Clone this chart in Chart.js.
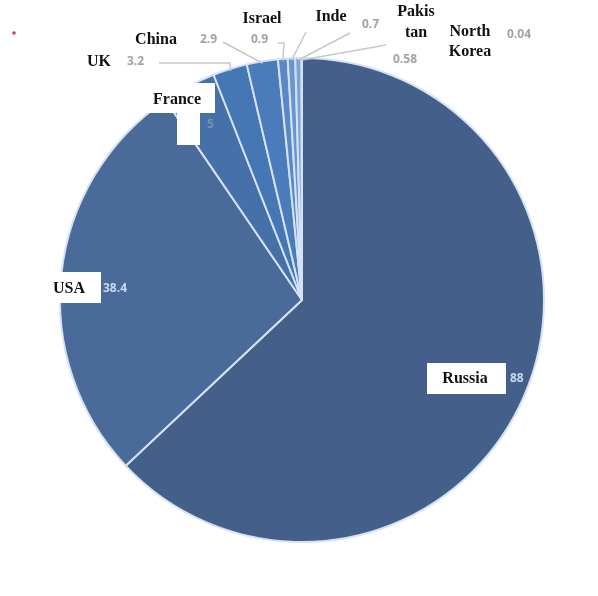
<!DOCTYPE html>
<html>
<head>
<meta charset="utf-8">
<script src="https://cdn.jsdelivr.net/npm/chart.js@4/dist/chart.umd.min.js"></script>
<style>
  html,body{margin:0;padding:0;background:#fff;}
  #wrap{width:598px;height:596px;position:relative;}
</style>
</head>
<body>
<div id="wrap"><canvas id="chart" width="598" height="596"></canvas></div>
<script>
// data
const countries = ['Russia','USA','France','UK','China','Israel','Inde','Pakistan','North Korea'];
const values = [88, 38.4, 5, 3.2, 2.9, 0.9, 0.7, 0.58, 0.04];
const valueLabels = ['88','38.4','5','3.2','2.9','0.9','0.7','0.58','0.04'];

const COLORS = ['#44608a','#4a6a9a','#4570a8','#4677b5','#4a7cbb','#5a88c6','#6a95cf','#7aa2d6','#8aaedc'];

// where each label sits (name lines, value left edge, optional white box, leader start)
const LABELS = [
  {name:['Russia'], nx:465, ny:379, vx:510, vy:379, vcol:'#c9d8ee', box:[[427,363,79,31]]},
  {name:['USA'], nx:69, ny:289, vx:103, vy:289, vcol:'#c9d8ee', box:[[40,272,61,31]]},
  {name:['France'], nx:177, ny:100, vx:207, vy:125, vcol:'#7f90aa', box:[[147,83,68,30],[177,112,23,33]]},
  {name:['UK'], nx:99, ny:62, vx:127, vy:62, lead:[[159,63],[230,63]]},
  {name:['China'], nx:156, ny:40, vx:200, vy:40, lead:[[223,42]]},
  {name:['Israel'], nx:262, ny:19, vx:251, vy:40, lead:[[278,43],[284,43]]},
  {name:['Inde'], nx:331, ny:17, vx:362, vy:25, lead:[[306,32]]},
  {name:['Pakis','tan'], nx:416, ny:12, lh:21, vx:393, vy:60, lead:[[350,33]]},
  {name:['North','Korea'], nx:470, ny:32, lh:20, vx:507, vy:35, lead:[[386,45]]}
];

const labelPlugin = {
  id: 'sliceLabels',
  afterDatasetsDraw(chart){
    const ctx = chart.ctx;
    const arcs = chart.getDatasetMeta(0).data;
    ctx.save();
    arcs.forEach((arc, i) => {
      const L = LABELS[i];
      // leader line to the outer edge of the slice
      if(L.lead){
        const mid = (arc.startAngle + arc.endAngle) / 2;
        const ex = arc.x + Math.cos(mid) * (arc.outerRadius - 2);
        const ey = arc.y + Math.sin(mid) * (arc.outerRadius - 2);
        ctx.strokeStyle = '#c8c8c8';
        ctx.lineWidth = 1.5;
        ctx.beginPath();
        ctx.moveTo(L.lead[0][0], L.lead[0][1]);
        for(let k=1;k<L.lead.length;k++) ctx.lineTo(L.lead[k][0], L.lead[k][1]);
        ctx.lineTo(ex, ey);
        ctx.stroke();
      }
      if(L.box){
        ctx.fillStyle = '#ffffff';
        L.box.forEach(b => ctx.fillRect(b[0], b[1], b[2], b[3]));
      }
      ctx.textAlign = 'center';
      ctx.textBaseline = 'middle';
      ctx.fillStyle = '#111';
      ctx.font = 'bold 16px "Liberation Serif"';
      L.name.forEach((t, k) => ctx.fillText(t, L.nx, L.ny + k * (L.lh || 0)));
      ctx.textAlign = 'left';
      ctx.fillStyle = L.vcol || '#a3a3a3';
      ctx.font = 'bold 12px "Open Sans"';
      ctx.fillText(valueLabels[i], L.vx, L.vy);
    });
    // small red speck in the corner
    ctx.fillStyle = '#d04050';
    ctx.beginPath();
    ctx.arc(14, 33, 1.8, 0, Math.PI*2);
    ctx.fill();
    ctx.restore();
  }
};

new Chart(document.getElementById('chart'), {
  type: 'pie',
  data: {
    labels: countries,
    datasets: [{
      data: values,
      backgroundColor: COLORS,
      borderColor: '#d4e2f4',
      borderWidth: 2
    }]
  },
  options: {
    responsive: false,
    animation: false,
    layout: { padding: { left: 59, right: 53, top: 57, bottom: 53 } },
    plugins: {
      legend: { display: false },
      tooltip: { enabled: false }
    }
  },
  plugins: [labelPlugin]
});
</script>
</body>
</html>
